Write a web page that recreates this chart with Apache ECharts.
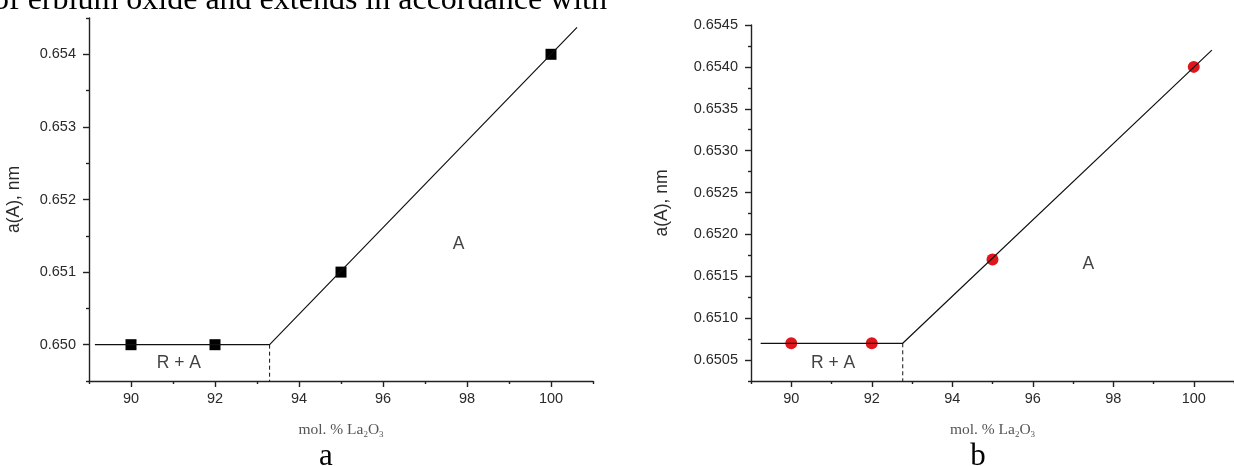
<!DOCTYPE html>
<html>
<head>
<meta charset="utf-8">
<script src="https://cdn.jsdelivr.net/npm/echarts@6/dist/echarts.min.js"></script>
<style>
  html, body { margin: 0; padding: 0; background: #fff; }
  #chart { width: 1234px; height: 466px; }
</style>
</head>
<body>
<div id="chart"></div>
<script>
// tick positions (both panels share the x scale)
var xMajor = [90, 92, 94, 96, 98, 100];
var xMinor = [89, 91, 93, 95, 97, 99, 101];
var yMajorA = [0.650, 0.651, 0.652, 0.653, 0.654];
var yMinorA = [0.6495, 0.6505, 0.6515, 0.6525, 0.6535, 0.6545];
var yMajorB = [0.6505, 0.6510, 0.6515, 0.6520, 0.6525, 0.6530, 0.6535, 0.6540, 0.6545];
var yMinorB = [0.65025, 0.65075, 0.65125, 0.65175, 0.65225, 0.65275, 0.65325, 0.65375, 0.65425];

// measured points, mol. % La2O3 vs lattice parameter a(A), nm
var molA = [90, 92, 95, 100];
var latA = [0.650, 0.650, 0.651, 0.654];
var molB = [90, 92, 95, 100];
var latB = [0.6507, 0.6507, 0.6517, 0.6540];

// drawn fit lines (start, phase boundary, end)
var fitXA = [89.14, 93.3, 100.62];
var fitYA = [0.650, 0.650, 0.65437];
var fitXB = [89.24, 92.77, 100.45];
var fitYB = [0.6507, 0.6507, 0.6542];

// region labels
var regionNames = ['R + A', 'A'];
var regionXA = [91.14, 97.8];
var regionYA = [0.64974, 0.65139];
var regionXB = [91.04, 97.38];
var regionYB = [0.65046, 0.65164];

var chart = echarts.init(document.getElementById('chart'));

function pairs(xs, ys) {
    var out = [];
    for (var i = 0; i < xs.length; i++) out.push([xs[i], ys[i]]);
    return out;
}

var axisColor = '#222';
var labelFont = { fontFamily: 'Liberation Sans', fontSize: 14.5, color: '#2a2a2a' };

function majorX(grid) {
    return {
        gridIndex: grid, type: 'value', min: 89, max: 101, position: 'bottom',
        axisLine: { lineStyle: { color: axisColor, width: 1.4 } },
        axisTick: { customValues: xMajor, length: 6, lineStyle: { color: axisColor, width: 1.4 } },
        axisLabel: Object.assign({ customValues: xMajor, margin: 10 }, labelFont),
        splitLine: { show: false },
        name: 'mol. % La{s|2}O{s|3}',
        nameLocation: 'middle',
        nameGap: 40,
        nameTextStyle: {
            fontFamily: 'Liberation Serif', fontSize: 15.5, color: '#555',
            rich: { s: { fontFamily: 'Liberation Serif', fontSize: 9, color: '#555', verticalAlign: 'bottom', padding: [9, 0, 0, 0] } }
        }
    };
}
function minorX(grid) {
    return {
        gridIndex: grid, type: 'value', min: 89, max: 101, position: 'bottom',
        axisLine: { show: false },
        axisTick: { customValues: xMinor, length: 3, lineStyle: { color: axisColor, width: 1.4 } },
        axisLabel: { show: false },
        splitLine: { show: false }
    };
}
function majorY(grid, min, max, ticks, digits, gap) {
    return {
        gridIndex: grid, type: 'value', min: min, max: max, position: 'left',
        axisLine: { show: true, lineStyle: { color: axisColor, width: 1.4 } },
        axisTick: { show: true, customValues: ticks, length: 6, lineStyle: { color: axisColor, width: 1.4 } },
        axisLabel: Object.assign({
            customValues: ticks, margin: 13,
            formatter: function (v) { return v.toFixed(digits); }
        }, labelFont),
        splitLine: { show: false },
        name: 'a(A), nm',
        nameLocation: 'middle',
        nameGap: gap,
        nameTextStyle: { fontFamily: 'Liberation Sans', fontSize: 17.5, color: '#2a2a2a', padding: [0, 0, 0, 0] }
    };
}
function minorY(grid, min, max, ticks) {
    return {
        gridIndex: grid, type: 'value', min: min, max: max, position: 'left',
        axisLine: { show: false },
        axisTick: { show: true, customValues: ticks, length: 3, lineStyle: { color: axisColor, width: 1.4 } },
        axisLabel: { show: false },
        splitLine: { show: false }
    };
}

function panelSeries(xi, yi, fitX, fitY, mol, lat, boundary, baseY, yMin, symbol, size, color, rX, rY) {
    var regions = [];
    for (var i = 0; i < regionNames.length; i++) {
        regions.push({ name: regionNames[i], value: [rX[i], rY[i]] });
    }
    return [
        {
            type: 'line', xAxisIndex: xi, yAxisIndex: yi, data: pairs(fitX, fitY),
            showSymbol: false, symbol: 'none', silent: true,
            lineStyle: { color: '#111', width: 1.2 }
        },
        {
            type: 'line', xAxisIndex: xi, yAxisIndex: yi,
            data: [[boundary, baseY], [boundary, yMin]],
            symbol: 'none', silent: true,
            lineStyle: { color: '#111', width: 1, type: [4, 3] }
        },
        {
            type: 'scatter', xAxisIndex: xi, yAxisIndex: yi, data: pairs(mol, lat),
            symbol: symbol, symbolSize: size,
            itemStyle: { color: color, opacity: 1 }
        },
        {
            type: 'scatter', xAxisIndex: xi, yAxisIndex: yi, data: regions,
            symbolSize: 0, silent: true,
            label: {
                show: true, position: 'inside', formatter: '{b}',
                fontFamily: 'Liberation Sans', fontSize: 17.5, color: '#111'
            }
        }
    ];
}

var option = {
    animation: false,
    backgroundColor: '#fff',
    grid: [
        { left: 89, top: 18, width: 504, height: 363 },
        { left: 751, top: 25, width: 493, height: 356 }
    ],
    xAxis: [majorX(0), minorX(0), majorX(1), minorX(1)],
    yAxis: [
        majorY(0, 0.6495, 0.6545, yMajorA, 3, 66),
        minorY(0, 0.6495, 0.6545, yMinorA),
        majorY(1, 0.65025, 0.6545, yMajorB, 4, 80),
        minorY(1, 0.65025, 0.6545, yMinorB)
    ],
    series: [].concat(
        panelSeries(0, 0, fitXA, fitYA, molA, latA, fitXA[1], fitYA[1], 0.6495, 'rect', 11, '#000', regionXA, regionYA),
        panelSeries(2, 2, fitXB, fitYB, molB, latB, fitXB[1], fitYB[1], 0.65025, 'circle', 12, '#e0161b', regionXB, regionYB)
    ),
    graphic: [
        {
            type: 'text', x: -7, y: 17,
            style: { text: 'of erbium oxide and extends in accordance with', font: '32px "Liberation Serif"', fill: '#000', verticalAlign: 'bottom' }
        },
        {
            type: 'text', x: 326, y: 472,
            style: { text: 'a', font: '31px "Liberation Serif"', fill: '#000', align: 'center', verticalAlign: 'bottom' }
        },
        {
            type: 'text', x: 978, y: 472,
            style: { text: 'b', font: '31px "Liberation Serif"', fill: '#000', align: 'center', verticalAlign: 'bottom' }
        }
    ]
};

chart.setOption(option);
window.onresize = function () { chart.resize(); };
</script>
</body>
</html>
